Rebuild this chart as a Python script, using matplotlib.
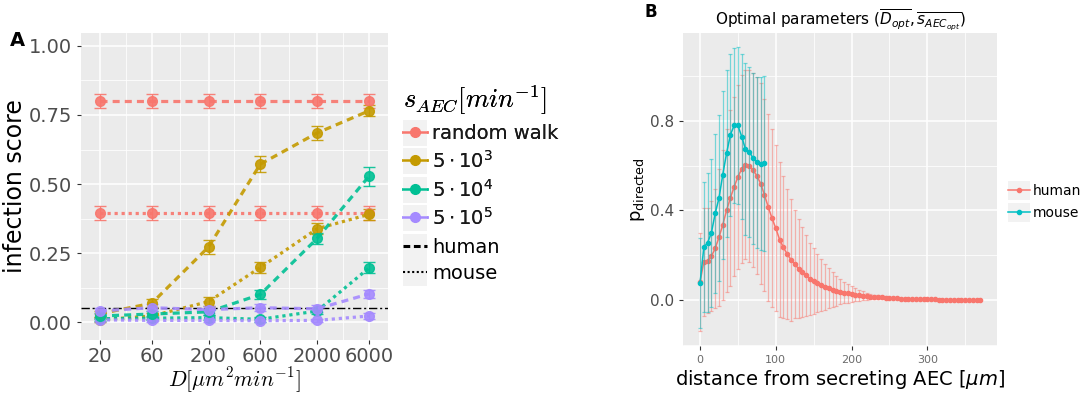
import numpy as np
import matplotlib
matplotlib.use('Agg')
import matplotlib.pyplot as plt
from matplotlib.lines import Line2D
from matplotlib.patches import Rectangle
from matplotlib.legend_handler import HandlerLine2D
from matplotlib.font_manager import FontProperties
from matplotlib.ticker import FixedLocator, NullFormatter

plt.rcParams['font.family'] = ['DejaVu Sans']

# ---- panel A data: infection score vs diffusion coefficient ----
diffusion = [20, 60, 200, 600, 2000, 6000]
secretion_labels = ['random walk', r'$5\cdot10^3$', r'$5\cdot10^4$', r'$5\cdot10^5$']
secretion_colors = ['#F8766D', '#C49A00', '#00C094', '#A58AFF']

human_rw = [0.800, 0.800, 0.800, 0.800, 0.800, 0.800]
human_5e3 = [0.030, 0.068, 0.272, 0.572, 0.685, 0.765]
human_5e4 = [0.022, 0.029, 0.037, 0.100, 0.303, 0.528]
human_5e5 = [0.040, 0.052, 0.045, 0.052, 0.048, 0.102]
mouse_rw = [0.395, 0.395, 0.395, 0.395, 0.395, 0.395]
mouse_5e3 = [0.008, 0.022, 0.074, 0.198, 0.338, 0.390]
mouse_5e4 = [0.012, 0.014, 0.016, 0.010, 0.040, 0.196]
mouse_5e5 = [0.008, 0.006, 0.006, 0.005, 0.006, 0.022]

human_rw_err = [0.025, 0.025, 0.025, 0.025, 0.025, 0.025]
human_5e3_err = [0.010, 0.015, 0.025, 0.030, 0.025, 0.020]
human_5e4_err = [0.010, 0.010, 0.010, 0.015, 0.020, 0.035]
human_5e5_err = [0.012, 0.012, 0.012, 0.012, 0.012, 0.015]
mouse_rw_err = [0.025, 0.025, 0.025, 0.025, 0.025, 0.025]
mouse_5e3_err = [0.008, 0.010, 0.015, 0.020, 0.020, 0.020]
mouse_5e4_err = [0.008, 0.008, 0.008, 0.008, 0.010, 0.020]
mouse_5e5_err = [0.006, 0.006, 0.006, 0.006, 0.006, 0.010]

threshold = 0.05

# ---- panel B data: p_directed vs distance ----
mouse_dist = [0, 5, 10, 15, 20, 25, 30, 35, 40, 45, 50, 55, 60, 65, 70, 75, 80, 85]
mouse_p = [0.075, 0.235, 0.256, 0.300, 0.387, 0.455, 0.560, 0.655, 0.737, 0.780,
           0.780, 0.730, 0.673, 0.663, 0.633, 0.615, 0.608, 0.610]
mouse_err = [0.20, 0.29, 0.31, 0.33, 0.355, 0.37, 0.375, 0.373, 0.362, 0.345,
             0.35, 0.37, 0.385, 0.38, 0.383, 0.383, 0.387, 0.39]

human_dist = [0, 5, 10, 15, 20, 25, 30, 35, 40, 45, 50, 55, 60, 65, 70, 75, 80, 85, 90, 95,
              100, 105, 110, 115, 120, 125, 130, 135, 140, 145, 150, 155, 160, 165, 170, 175,
              180, 185, 190, 195, 200, 205, 210, 215, 220, 225, 230, 235, 240, 245, 250, 255,
              260, 265, 270, 275, 280, 285, 290, 295, 300, 305, 310, 315, 320, 325, 330, 335,
              340, 345, 350, 355, 360, 365, 370]
human_p = [0.080, 0.170, 0.175, 0.195, 0.230, 0.280, 0.335, 0.400, 0.455, 0.505,
           0.550, 0.585, 0.605, 0.600, 0.580, 0.555, 0.520, 0.470, 0.415, 0.365,
           0.320, 0.270, 0.235, 0.205, 0.180, 0.160, 0.140, 0.125, 0.110, 0.095,
           0.083, 0.074, 0.066, 0.058, 0.052, 0.046, 0.041, 0.037, 0.033, 0.029,
           0.026, 0.023, 0.021, 0.019, 0.017, 0.015, 0.013, 0.012, 0.011, 0.010,
           0.009, 0.008, 0.007, 0.006, 0.005, 0.005, 0.004, 0.004, 0.003, 0.003,
           0.002, 0.002, 0.002, 0.001, 0.001, 0.001, 0.001, 0.001, 0.000, 0.000,
           0.000, 0.000, 0.000, 0.000, 0.000]
human_err = [0.22, 0.24, 0.235, 0.245, 0.267, 0.305, 0.335, 0.363, 0.395, 0.40,
             0.41, 0.42, 0.423, 0.429, 0.434, 0.44, 0.45, 0.43, 0.418, 0.398,
             0.371, 0.345, 0.318, 0.292, 0.273, 0.243, 0.22, 0.203, 0.181, 0.161,
             0.148, 0.130, 0.116, 0.103, 0.090, 0.078, 0.066, 0.057, 0.049, 0.041,
             0.034, 0.029, 0.024, 0.020, 0.016, 0.013, 0.011, 0.009, 0.008, 0.007,
             0.006, 0.005, 0.004, 0.004, 0.003, 0.003, 0.002, 0.002, 0.002, 0.001,
             0.001, 0.001, 0.001, 0.000, 0.000, 0.000, 0.000, 0.000, 0.000, 0.000,
             0.000, 0.000, 0.000, 0.000, 0.000]

BG = '#EBEBEB'
TXT = '#4D4D4D'


class KeyHandler(HandlerLine2D):
    # ggplot style legend key with grey box behind
    def create_artists(self, legend, orig_handle, xdescent, ydescent, width, height, fontsize, trans):
        box = Rectangle((-xdescent, -ydescent - 0.25 * height), width, 1.5 * height,
                        facecolor='#F2F2F2', edgecolor='none', transform=trans)
        return [box] + super().create_artists(legend, orig_handle, xdescent, ydescent,
                                              width, height, fontsize, trans)


def gg_axes(ax):
    ax.set_facecolor(BG)
    for s in ax.spines.values():
        s.set_visible(False)
    ax.grid(which='major', color='white', lw=1.1)
    ax.grid(which='minor', color='white', lw=0.55)
    ax.set_axisbelow(True)
    ax.tick_params(which='major', color='#333333', length=3, width=0.8)
    ax.tick_params(which='minor', length=0)


fig = plt.figure(figsize=(10.84, 3.94), dpi=100)

# ================= panel A =================
axA = fig.add_axes([81 / 1084, 1 - 340 / 394, 307 / 1084, 307 / 394])
gg_axes(axA)

human_vals = [human_rw, human_5e3, human_5e4, human_5e5]
human_errs = [human_rw_err, human_5e3_err, human_5e4_err, human_5e5_err]
mouse_vals = [mouse_rw, mouse_5e3, mouse_5e4, mouse_5e5]
mouse_errs = [mouse_rw_err, mouse_5e3_err, mouse_5e4_err, mouse_5e5_err]

for vals, errs, c in zip(mouse_vals, mouse_errs, secretion_colors):
    axA.errorbar(diffusion, vals, yerr=errs, color=c, ls=(0, (1, 1.2)), lw=2.3,
                 marker='o', ms=7, capsize=4, elinewidth=1, capthick=1, alpha=0.9)
for vals, errs, c in zip(human_vals, human_errs, secretion_colors):
    axA.errorbar(diffusion, vals, yerr=errs, color=c, ls=(0, (2.2, 1.6)), lw=2.3,
                 marker='o', ms=7, capsize=4, elinewidth=1, capthick=1, alpha=0.9)

axA.axhline(threshold, color='black', lw=1, ls=(0, (6, 2, 1.5, 2)))

axA.set_xscale('log')
axA.set_xlim(13.4, 8980)
axA.set_ylim(-0.065, 1.047)
axA.xaxis.set_major_locator(FixedLocator(diffusion))
axA.xaxis.set_major_formatter(matplotlib.ticker.FixedFormatter([str(d) for d in diffusion]))
mids = [np.sqrt(diffusion[i] * diffusion[i + 1]) for i in range(len(diffusion) - 1)]
axA.xaxis.set_minor_locator(FixedLocator(mids))
axA.xaxis.set_minor_formatter(NullFormatter())
axA.set_yticks([0, 0.25, 0.5, 0.75, 1.0])
axA.set_yticklabels(['0.00', '0.25', '0.50', '0.75', '1.00'])
axA.yaxis.set_minor_locator(FixedLocator([0.125, 0.375, 0.625, 0.875]))
axA.tick_params(labelsize=14, labelcolor=TXT)
axA.tick_params(axis='x', pad=2)
axA.set_ylabel('infection score', fontsize=17, labelpad=1)
axA.set_xlabel(r'$D[\mu m^2 min^{-1}]$', labelpad=0,
               fontproperties=FontProperties(size=15.5, math_fontfamily='cm'))

sec_handles = [Line2D([], [], color=c, lw=1.8, marker='o', ms=7) for c in secretion_colors]
legA1 = fig.legend(sec_handles, secretion_labels, loc='upper left',
                   bbox_to_anchor=(403 / 1084, 1 - 84 / 394), frameon=False,
                   fontsize=14, handlelength=1.25, handleheight=1.0, labelspacing=0.34,
                   handletextpad=0.25, borderaxespad=0, borderpad=0,
                   title=r'$s_{AEC}[min^{-1}]$',
                   title_fontproperties=FontProperties(size=19, math_fontfamily='cm'),
                   alignment='left', handler_map={Line2D: KeyHandler()})
for t in legA1.get_texts():
    t.set_color('#1A1A1A')

sp_handles = [Line2D([], [], color='black', lw=2.2, ls=(0, (2.2, 1.2))),
              Line2D([], [], color='black', lw=1.5, ls=(0, (1, 1.2)))]
legA2 = fig.legend(sp_handles, ['human', 'mouse'], loc='upper left',
                   bbox_to_anchor=(403 / 1084, 1 - 238 / 394), frameon=False,
                   fontsize=14, handlelength=1.25, handleheight=1.0, labelspacing=0.34,
                   handletextpad=0.25, borderaxespad=0, borderpad=0,
                   handler_map={Line2D: KeyHandler()})
fig.add_artist(legA1)

# ================= panel B =================
axB = fig.add_axes([683 / 1084, 1 - 346 / 394, 314 / 1084, 313 / 394])
gg_axes(axB)

hc, mc = '#F8766D', '#00BFC4'
axB.errorbar(human_dist, human_p, yerr=human_err, fmt='none', ecolor=hc, alpha=0.5,
             elinewidth=0.9, capsize=1.6, capthick=0.9)
axB.plot(human_dist, human_p, color=hc, lw=1.1, marker='o', ms=3)
axB.errorbar(mouse_dist, mouse_p, yerr=mouse_err, fmt='none', ecolor=mc, alpha=0.5,
             elinewidth=0.9, capsize=1.6, capthick=0.9)
axB.plot(mouse_dist, mouse_p, color=mc, lw=1.1, marker='o', ms=3)

axB.set_xlim(-22.5, 392)
axB.set_ylim(-0.206, 1.193)
axB.set_xticks([0, 100, 200, 300])
axB.xaxis.set_minor_locator(FixedLocator([50, 150, 250, 350]))
axB.set_yticks([0.0, 0.4, 0.8])
axB.yaxis.set_minor_locator(FixedLocator([-0.2, 0.2, 0.6, 1.0]))
axB.tick_params(axis='y', labelsize=11, labelcolor=TXT)
axB.tick_params(axis='x', labelsize=8, labelcolor='#6B6B6B')
axB.set_title(r'Optimal parameters ($\overline{D_{opt}}, \overline{s_{AEC_{opt}}}$)',
              fontsize=11, pad=4)
axB.set_ylabel(r'$\mathregular{p_{directed}}$', fontsize=13, labelpad=2)
axB.set_xlabel(r'distance from secreting AEC [$\mu m$]', fontsize=14, labelpad=2)

b_handles = [Line2D([], [], color=hc, lw=1.1, marker='o', ms=3),
             Line2D([], [], color=mc, lw=1.1, marker='o', ms=3)]
fig.legend(b_handles, ['human', 'mouse'], loc='upper left',
           bbox_to_anchor=(1008 / 1084, 1 - 184 / 394), frameon=False,
           fontsize=10, handlelength=1.6, handleheight=1.0, labelspacing=0.6,
           handletextpad=0.2, borderaxespad=0, borderpad=0,
           handler_map={Line2D: KeyHandler()})

fig.text(10 / 1084, 1 - 40 / 394, 'A', fontsize=14, weight='bold', va='center')
fig.text(645 / 1084, 1 - 12 / 394, 'B', fontsize=12, weight='bold', va='center')

fig.savefig('out.png', dpi=100)
